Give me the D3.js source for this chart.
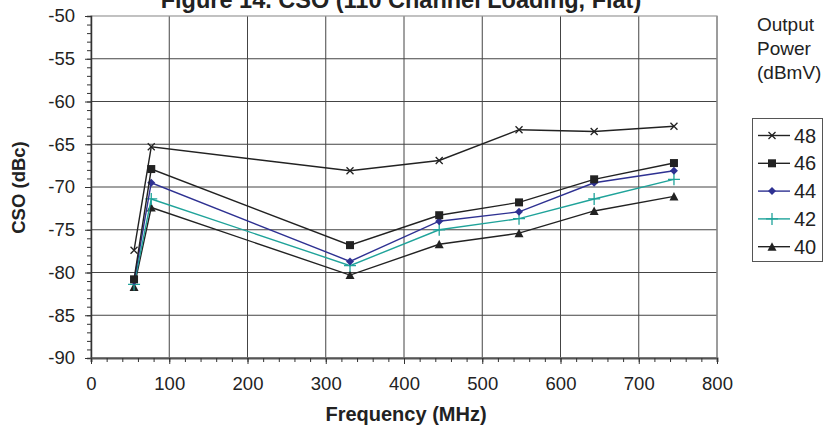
<!DOCTYPE html>
<html>
<head>
<meta charset="utf-8">
<script src="https://cdn.jsdelivr.net/npm/d3@7"></script>
<style>
  body { margin: 0; background: #fff; }
  text { font-family: "Liberation Sans", Arial, sans-serif; fill: #222; }
</style>
</head>
<body>
<svg id="chart" width="827" height="428"></svg>
<script>
// data
var freqs = [55, 77, 331, 445, 547, 643, 745];
var powers = ["48", "46", "44", "42", "40"];
var cso48 = [-77.4, -65.3, -68.1, -66.9, -63.3, -63.5, -62.9];
var cso46 = [-80.8, -67.9, -76.8, -73.3, -71.8, -69.1, -67.2];
var cso44 = [-81.0, -69.5, -78.7, -74.0, -72.9, -69.5, -68.1];
var cso42 = [-81.4, -71.4, -79.2, -75.0, -73.7, -71.4, -69.1];
var cso40 = [-81.7, -72.4, -80.3, -76.7, -75.4, -72.8, -71.1];
var xTicks = [0, 100, 200, 300, 400, 500, 600, 700, 800];
var yTicks = [-50, -55, -60, -65, -70, -75, -80, -85, -90];

var series = [
  {name: powers[0], values: cso48, color: "#222", marker: "x"},
  {name: powers[1], values: cso46, color: "#222", marker: "square"},
  {name: powers[2], values: cso44, color: "#2e3192", marker: "diamond"},
  {name: powers[3], values: cso42, color: "#1fa39a", marker: "plus"},
  {name: powers[4], values: cso40, color: "#222", marker: "triangle"}
];

var plot = {left: 91, right: 717, top: 16, bottom: 358};
var svg = d3.select("#chart");

var xScale = d3.scaleLinear().domain([0, 800]).range([plot.left, plot.right]);
var yScale = d3.scaleLinear().domain([-90, -50]).range([plot.bottom, plot.top]);

// grid
var grid = svg.append("g");
grid.selectAll("line.v")
  .data(xTicks.slice(1))
  .enter().append("line")
    .attr("x1", function(d) { return xScale(d); })
    .attr("x2", function(d) { return xScale(d); })
    .attr("y1", plot.top).attr("y2", plot.bottom)
    .attr("stroke", "#444").attr("stroke-width", 1);
grid.selectAll("line.h")
  .data(yTicks.slice(1))
  .enter().append("line")
    .attr("y1", function(d) { return yScale(d); })
    .attr("y2", function(d) { return yScale(d); })
    .attr("x1", plot.left).attr("x2", plot.right)
    .attr("stroke", "#444").attr("stroke-width", 1);
svg.append("rect")
  .attr("x", plot.left).attr("y", plot.top)
  .attr("width", plot.right - plot.left).attr("height", plot.bottom - plot.top)
  .attr("fill", "none").attr("stroke", "#999").attr("stroke-width", 1.2);

// axes
var yMinor = d3.range(-90, -49, 1);
var yAxis = svg.append("g")
  .attr("transform", "translate(" + plot.left + ",0)")
  .call(d3.axisLeft(yScale).tickValues(yMinor).tickSize(4).tickFormat(""));
yAxis.select(".domain").attr("stroke", "#333").attr("stroke-width", 1.5);
yAxis.selectAll(".tick line").attr("stroke", "#333");
var yMajor = svg.append("g")
  .attr("transform", "translate(" + plot.left + ",0)")
  .call(d3.axisLeft(yScale).tickValues(yTicks).tickSize(6).tickPadding(10)
    .tickFormat(function(d) { return d; }));
yMajor.select(".domain").remove();
yMajor.selectAll(".tick line").attr("stroke", "#333");
yMajor.selectAll("text").attr("font-size", 18.5).attr("fill", "#222")
  .style("font-family", "'Liberation Sans', Arial, sans-serif");

var xMinor = d3.range(0, 801, 20);
var xAxis = svg.append("g")
  .attr("transform", "translate(0," + plot.bottom + ")")
  .call(d3.axisBottom(xScale).tickValues(xMinor).tickSize(4).tickFormat(""));
xAxis.select(".domain").attr("stroke", "#555").attr("stroke-width", 2);
xAxis.selectAll(".tick line").attr("stroke", "#333");
var xMajor = svg.append("g")
  .attr("transform", "translate(0," + plot.bottom + ")")
  .call(d3.axisBottom(xScale).tickValues(xTicks).tickSize(6).tickPadding(13)
    .tickFormat(function(d) { return d; }));
xMajor.select(".domain").remove();
xMajor.selectAll(".tick line").attr("stroke", "#333");
xMajor.selectAll("text").attr("font-size", 18.5).attr("fill", "#222")
  .style("font-family", "'Liberation Sans', Arial, sans-serif");

// titles
svg.append("text")
  .attr("x", 401).attr("y", 8)
  .attr("text-anchor", "middle")
  .attr("font-size", 23.5).attr("font-weight", "bold")
  .text("Figure 14. CSO (110 Channel Loading, Flat)");
svg.append("text")
  .attr("x", 406).attr("y", 421)
  .attr("text-anchor", "middle")
  .attr("font-size", 20).attr("font-weight", "bold")
  .text("Frequency (MHz)");
svg.append("text")
  .attr("transform", "translate(25,187.5) rotate(-90)")
  .attr("text-anchor", "middle")
  .attr("font-size", 18.5).attr("font-weight", "bold")
  .text("CSO (dBc)");

// markers
function drawMarker(g, type, color) {
  if (type == "x") {
    g.append("path").attr("d", "M-3.5,-3.5L3.5,3.5M-3.5,3.5L3.5,-3.5")
      .attr("stroke", color).attr("stroke-width", 1.3).attr("fill", "none");
  } else if (type == "square") {
    g.append("rect").attr("x", -4).attr("y", -4).attr("width", 8).attr("height", 8)
      .attr("fill", color);
  } else if (type == "diamond") {
    g.append("path").attr("d", "M0,-4L4,0L0,4L-4,0Z").attr("fill", color);
  } else if (type == "plus") {
    g.append("path").attr("d", "M-6,0L6,0M0,-6L0,6")
      .attr("stroke", color).attr("stroke-width", 1.3).attr("fill", "none");
  } else if (type == "triangle") {
    g.append("path").attr("d", "M0,-4.5L4.5,4L-4.5,4Z").attr("fill", color);
  }
}

var line = d3.line()
  .x(function(d, i) { return xScale(freqs[i]); })
  .y(function(d) { return yScale(d); });

var seriesG = svg.selectAll("g.series")
  .data(series.slice().reverse())
  .enter().append("g").attr("class", "series");
seriesG.append("path")
  .attr("d", function(d) { return line(d.values); })
  .attr("fill", "none")
  .attr("stroke", function(d) { return d.color; })
  .attr("stroke-width", 1.4);
seriesG.each(function(s) {
  var g = d3.select(this);
  s.values.forEach(function(v, i) {
    var m = g.append("g")
      .attr("transform", "translate(" + xScale(freqs[i]) + "," + yScale(v) + ")");
    drawMarker(m, s.marker, s.color);
  });
});

// legend
var legendTitle = ["Output", "Power", "(dBmV)"];
svg.selectAll("text.ltitle")
  .data(legendTitle)
  .enter().append("text")
    .attr("x", 757)
    .attr("y", function(d, i) { return 31 + i * 24; })
    .attr("font-size", 19)
    .text(function(d) { return d; });

svg.append("rect")
  .attr("x", 752.5).attr("y", 118.5).attr("width", 70).attr("height", 143)
  .attr("fill", "#fff").attr("stroke", "#555").attr("stroke-width", 1);

var legend = svg.selectAll("g.legend")
  .data(series)
  .enter().append("g")
    .attr("transform", function(d, i) { return "translate(772," + (135.5 + i * 27.8) + ")"; });
legend.append("line")
  .attr("x1", -14).attr("x2", 18)
  .attr("stroke", function(d) { return d.color; })
  .attr("stroke-width", 1.4);
legend.each(function(s) { drawMarker(d3.select(this), s.marker, s.color); });
legend.append("text")
  .attr("x", 22).attr("y", 7)
  .attr("font-size", 20)
  .text(function(d) { return d.name; });
</script>
</body>
</html>
